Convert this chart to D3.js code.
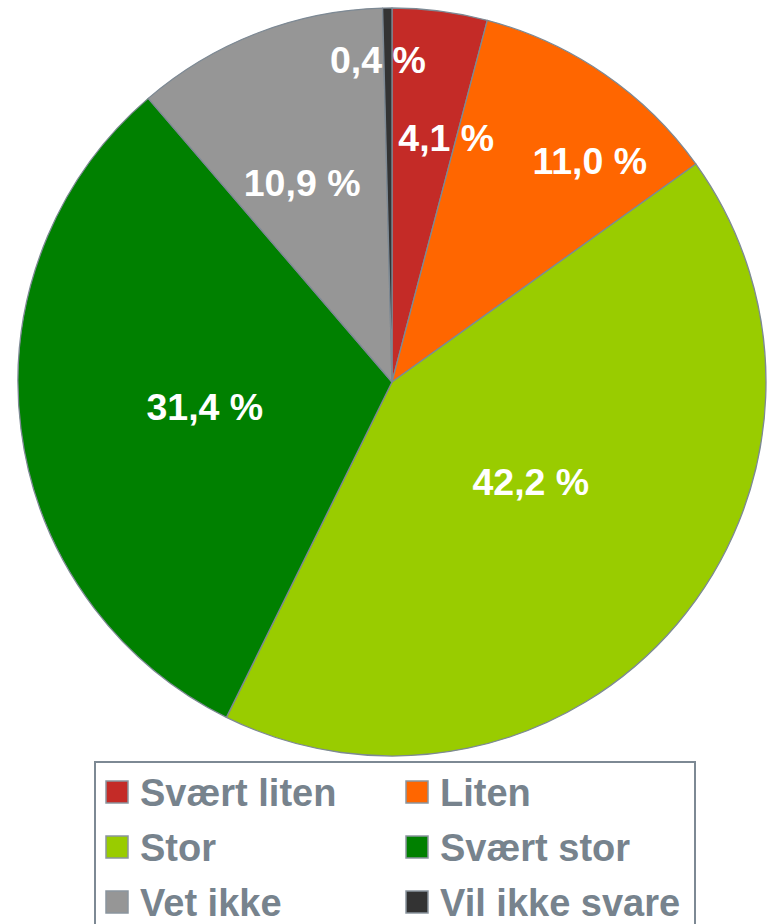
<!DOCTYPE html>
<html>
<head>
<meta charset="utf-8">
<script src="https://cdn.jsdelivr.net/npm/d3@7.9.0/dist/d3.min.js"></script>
<style>
  html, body { margin: 0; padding: 0; background: #fff; }
  svg { display: block; font-family: "Liberation Sans", Arial, sans-serif; }
</style>
</head>
<body>
<svg id="chart" width="768" height="924"></svg>
<script>
// Answer categories, clockwise from 12 o'clock
const categories = ['Svært liten', 'Liten', 'Stor', 'Svært stor', 'Vet ikke', 'Vil ikke svare'];
const shares = [4.1, 11.0, 42.2, 31.4, 10.9, 0.4];
const valueLabels = ['4,1 %', '11,0 %', '42,2 %', '31,4 %', '10,9 %', '0,4 %'];
const colors = ['#c42b27', '#ff6600', '#99cc00', '#008000', '#969696', '#333333'];

// Where each label sits: [fraction of radius, angle in degrees from top]
const labelPolar = [[0.67, 12.5], [0.795, 41.7], [0.457, 125.7], [0.505, 262.4], [0.584, 335.7], [0.863, 357.5]];

const width = 768, height = 924;
const cx = 392, cy = 382, radius = 374;

const svg = d3.select('#chart');

// Pie layout, no sorting so the order stays as in the data
const pie = d3.pie().sort(null).value((d) => d);
const arc = d3.arc().innerRadius(0).outerRadius(radius);

const g = svg.append('g').attr('transform', `translate(${cx},${cy})`);

g.selectAll('path')
  .data(pie(shares))
  .join('path')
  .attr('d', arc)
  .attr('fill', (d, i) => colors[i])
  .attr('stroke', '#7d8994')
  .attr('stroke-width', 1.3)
  .attr('stroke-linejoin', 'round');

// Value labels
const labelSize = 37.5;
g.selectAll('text.value')
  .data(valueLabels)
  .join('text')
  .attr('class', 'value')
  .attr('x', (d, i) => radius * labelPolar[i][0] * Math.sin(labelPolar[i][1] * Math.PI / 180))
  .attr('y', (d, i) => -radius * labelPolar[i][0] * Math.cos(labelPolar[i][1] * Math.PI / 180) + labelSize * 0.36)
  .attr('text-anchor', 'middle')
  .attr('fill', '#fff')
  .attr('font-weight', 'bold')
  .attr('font-size', labelSize)
  .text((d) => d);

// Legend box (bottom edge runs off the page)
const legend = svg.append('g');
legend.append('rect')
  .attr('x', 95).attr('y', 762)
  .attr('width', 600).attr('height', 200)
  .attr('fill', '#fff')
  .attr('stroke', '#7d8994')
  .attr('stroke-width', 2);

const colX = d3.scaleOrdinal().domain([0, 1]).range([106, 406]);
const rowY = d3.scaleLinear().domain([0, 1]).range([792, 847]);

const items = legend.selectAll('g.item')
  .data(categories)
  .join('g')
  .attr('class', 'item')
  .attr('transform', (d, i) => `translate(${colX(i % 2)},${rowY(Math.floor(i / 2))})`);

items.append('rect')
  .attr('x', 0).attr('y', -11)
  .attr('width', 22).attr('height', 22)
  .attr('fill', (d, i) => colors[categories.indexOf(d)])
  .attr('stroke', '#8a959e')
  .attr('stroke-width', 1.5);

items.append('text')
  .attr('x', 34)
  .attr('y', 38 * 0.36)
  .attr('fill', '#77838d')
  .attr('font-weight', 'bold')
  .attr('font-size', 38)
  .text((d) => d);
</script>
</body>
</html>
